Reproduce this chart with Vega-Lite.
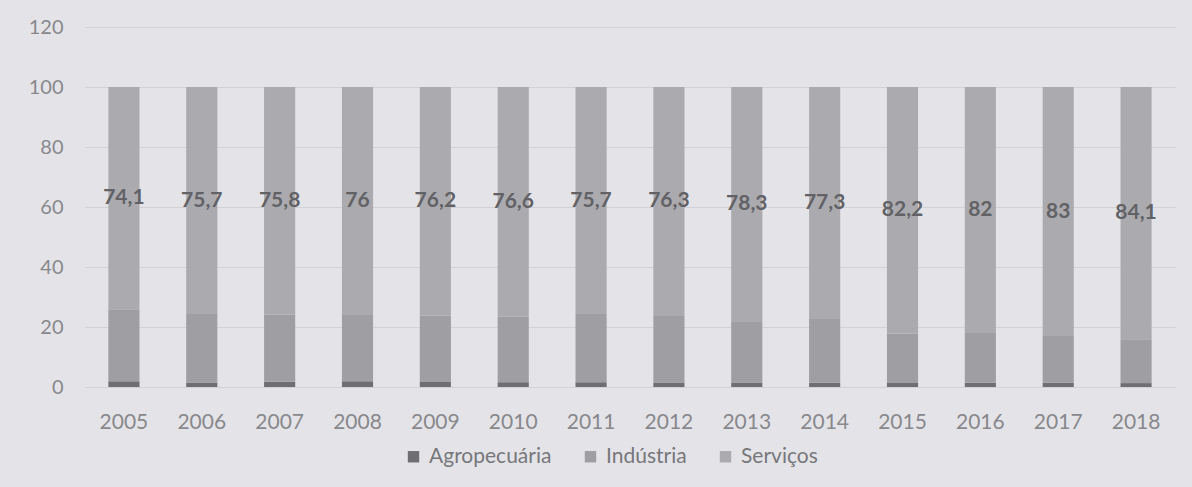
{
  "$schema": "https://vega.github.io/schema/vega-lite/v6.json",
  "width": 1090,
  "height": 360,
  "autosize": {"type": "none"},
  "padding": {"left": 85, "top": 27, "right": 17, "bottom": 100},
  "background": "#e4e4e8",
  "config": {
    "view": {"stroke": null},
    "font": "Lato",
    "locale": {"number": {"decimal": ",", "thousands": ".", "grouping": [3], "currency": ["R$", ""]}}
  },
  "data": {
    "values": [
      {"year": "2005", "cat": "Agropecuária", "value": 1.9},
      {"year": "2005", "cat": "Indústria", "value": 24.0},
      {"year": "2005", "cat": "Serviços", "value": 74.1},
      {"year": "2006", "cat": "Agropecuária", "value": 1.5},
      {"year": "2006", "cat": "Indústria", "value": 22.8},
      {"year": "2006", "cat": "Serviços", "value": 75.7},
      {"year": "2007", "cat": "Agropecuária", "value": 1.8},
      {"year": "2007", "cat": "Indústria", "value": 22.4},
      {"year": "2007", "cat": "Serviços", "value": 75.8},
      {"year": "2008", "cat": "Agropecuária", "value": 1.9},
      {"year": "2008", "cat": "Indústria", "value": 22.1},
      {"year": "2008", "cat": "Serviços", "value": 76},
      {"year": "2009", "cat": "Agropecuária", "value": 1.7},
      {"year": "2009", "cat": "Indústria", "value": 22.1},
      {"year": "2009", "cat": "Serviços", "value": 76.2},
      {"year": "2010", "cat": "Agropecuária", "value": 1.6},
      {"year": "2010", "cat": "Indústria", "value": 21.8},
      {"year": "2010", "cat": "Serviços", "value": 76.6},
      {"year": "2011", "cat": "Agropecuária", "value": 1.6},
      {"year": "2011", "cat": "Indústria", "value": 22.7},
      {"year": "2011", "cat": "Serviços", "value": 75.7},
      {"year": "2012", "cat": "Agropecuária", "value": 1.5},
      {"year": "2012", "cat": "Indústria", "value": 22.2},
      {"year": "2012", "cat": "Serviços", "value": 76.3},
      {"year": "2013", "cat": "Agropecuária", "value": 1.5},
      {"year": "2013", "cat": "Indústria", "value": 20.2},
      {"year": "2013", "cat": "Serviços", "value": 78.3},
      {"year": "2014", "cat": "Agropecuária", "value": 1.4},
      {"year": "2014", "cat": "Indústria", "value": 21.3},
      {"year": "2014", "cat": "Serviços", "value": 77.3},
      {"year": "2015", "cat": "Agropecuária", "value": 1.3},
      {"year": "2015", "cat": "Indústria", "value": 16.5},
      {"year": "2015", "cat": "Serviços", "value": 82.2},
      {"year": "2016", "cat": "Agropecuária", "value": 1.4},
      {"year": "2016", "cat": "Indústria", "value": 16.6},
      {"year": "2016", "cat": "Serviços", "value": 82},
      {"year": "2017", "cat": "Agropecuária", "value": 1.4},
      {"year": "2017", "cat": "Indústria", "value": 15.6},
      {"year": "2017", "cat": "Serviços", "value": 83},
      {"year": "2018", "cat": "Agropecuária", "value": 1.3},
      {"year": "2018", "cat": "Indústria", "value": 14.6},
      {"year": "2018", "cat": "Serviços", "value": 84.1}
    ]
  },
  "transform": [
    {"stack": "value", "groupby": ["year"], "sort": [{"field": "cat", "order": "ascending"}], "as": ["v0", "v1"]},
    {"calculate": "(datum.v0 + datum.v1) / 2", "as": "mid"}
  ],
  "encoding": {
    "x": {
      "field": "year", "type": "ordinal",
      "scale": {"paddingInner": 0.6, "paddingOuter": 0.3},
      "axis": {
        "title": null, "labelAngle": 0, "domain": false, "ticks": false,
        "labelFontSize": 21, "labelColor": "#88888c", "labelPadding": 24, "grid": false
      }
    }
  },
  "layer": [
    {
      "mark": {"type": "bar"},
      "encoding": {
        "y": {
          "field": "v0", "type": "quantitative",
          "scale": {"domain": [0, 120]},
          "axis": {
            "title": null, "values": [0, 20, 40, 60, 80, 100, 120], "domain": false, "ticks": false,
            "labelFontSize": 20, "labelColor": "#88888c", "labelPadding": 22,
            "gridColor": "#d2d2d6", "gridWidth": 1
          }
        },
        "y2": {"field": "v1"},
        "color": {
          "field": "cat", "type": "nominal",
          "scale": {"domain": ["Agropecuária", "Indústria", "Serviços"], "range": ["#6f6f73", "#9f9fa3", "#ababaf"]},
          "legend": {
            "title": null, "orient": "none", "direction": "horizontal",
            "legendX": 318, "legendY": 419,
            "symbolType": "square", "symbolSize": 130, "symbolStrokeWidth": 0,
            "labelFontSize": 21, "labelColor": "#77777b", "columnPadding": 28, "labelOffset": 5
          }
        }
      }
    },
    {
      "transform": [{"filter": "datum.cat === 'Serviços'"}],
      "mark": {"type": "text", "fontSize": 21, "fontWeight": "bold", "color": "#626266", "baseline": "middle"},
      "encoding": {
        "y": {"field": "mid", "type": "quantitative"},
        "text": {"field": "value", "type": "quantitative", "format": ".4~g"}
      }
    }
  ]
}
